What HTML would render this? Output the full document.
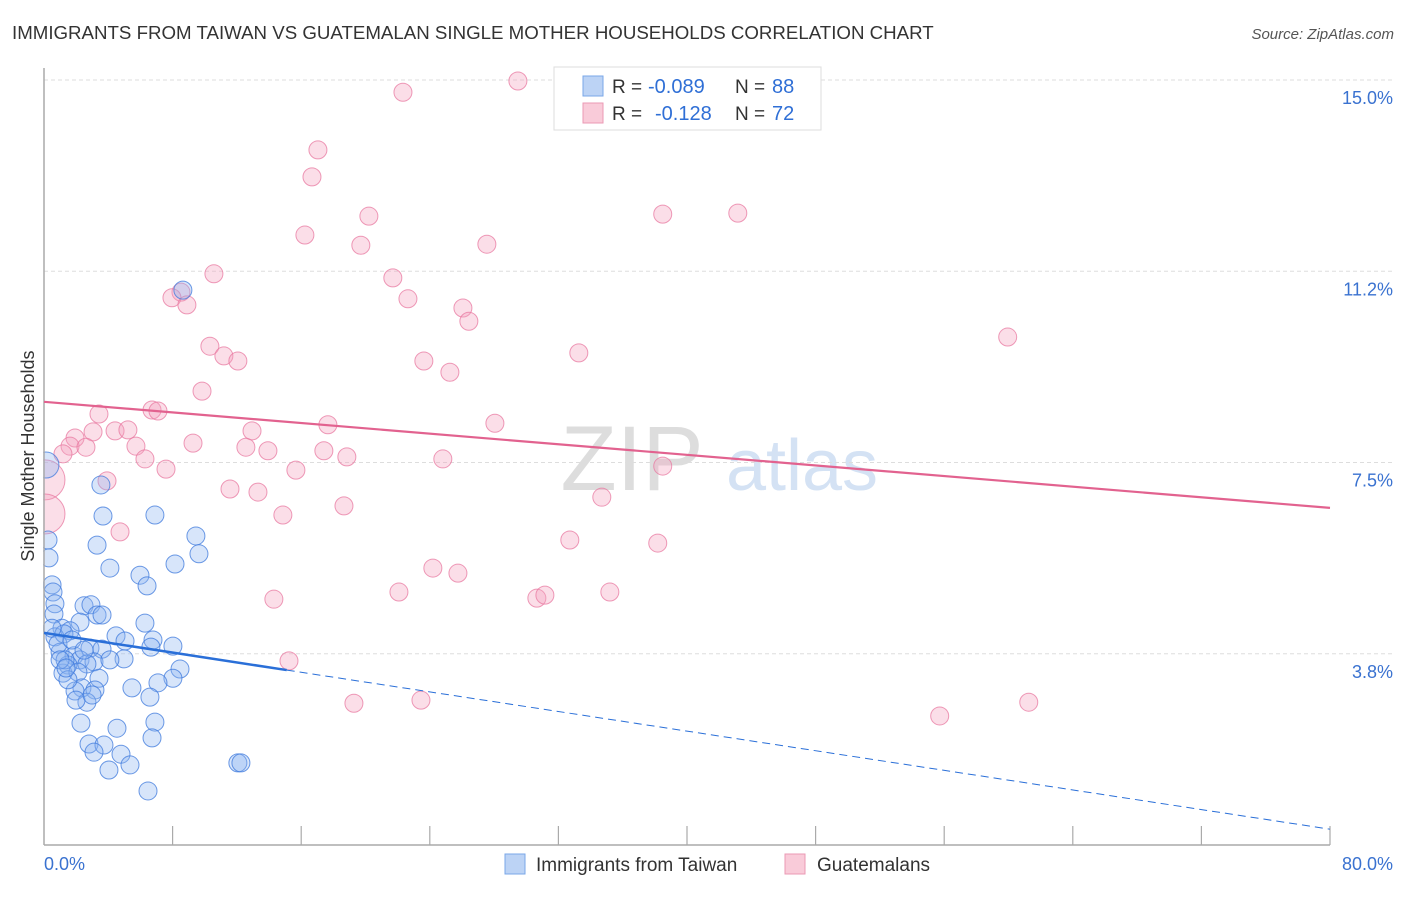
<!DOCTYPE html>
<html><head><meta charset="utf-8"><style>
body{margin:0;background:#fff;font-family:"Liberation Sans",sans-serif;}
svg text{font-family:"Liberation Sans",sans-serif;}
</style></head><body>
<svg id="chart" width="1406" height="892" xmlns="http://www.w3.org/2000/svg">
<text x="12" y="39" font-size="18.7" fill="#333">IMMIGRANTS FROM TAIWAN VS GUATEMALAN SINGLE MOTHER HOUSEHOLDS CORRELATION CHART</text>
<text x="1394" y="39" font-size="15" fill="#555" font-style="italic" text-anchor="end">Source: ZipAtlas.com</text>
<g>
<text x="632" y="490" font-size="92" fill="#ddd" font-family="Liberation Serif" text-anchor="middle">ZIP</text>
<text x="802" y="490" font-size="72" fill="#d4e2f4" text-anchor="middle">atlas</text>
</g>
<g id="grid"></g>
<g id="pts"></g>
<rect x="0" y="60" width="43.2" height="790" fill="#fff"/>
<g id="axes"></g>
<g id="trend"></g>
<text transform="translate(34,456) rotate(-90)" font-size="18" fill="#333" text-anchor="middle">Single Mother Households</text>
<g>
<rect x="554" y="67" width="267" height="63" fill="#fff" stroke="#ddd"/>
<rect x="583" y="76" width="20" height="20" fill="#bcd3f5" stroke="#7aa7e8"/>
<rect x="583" y="103" width="20" height="20" fill="#f9cbd9" stroke="#eb9ab4"/>
<text x="612" y="93" font-size="19" fill="#333">R =</text>
<text x="648" y="93" font-size="20" fill="#2f6fd6">-0.089</text>
<text x="735" y="93" font-size="19" fill="#333">N =</text>
<text x="772" y="93" font-size="20" fill="#2f6fd6">88</text>
<text x="612" y="120" font-size="19" fill="#333">R =</text>
<text x="655" y="120" font-size="20" fill="#2f6fd6">-0.128</text>
<text x="735" y="120" font-size="19" fill="#333">N =</text>
<text x="772" y="120" font-size="20" fill="#2f6fd6">72</text>
</g>
<g>
<rect x="505" y="854" width="20" height="20" fill="#bcd3f5" stroke="#7aa7e8"/>
<text x="536" y="871" font-size="19" fill="#333">Immigrants from Taiwan</text>
<rect x="785" y="854" width="20" height="20" fill="#f9cbd9" stroke="#eb9ab4"/>
<text x="817" y="871" font-size="19" fill="#333">Guatemalans</text>
</g>
</svg>
<script>
const yTicks=[15.0,11.25,7.5,3.75];
const yTickLabels=["15.0%","11.2%","7.5%","3.8%"];
const xTickLabels=["0.0%","80.0%"];
const blueX=[8.64,3.54,3.67,6.90,3.30,9.45,9.64,8.15,4.10,5.97,6.41,0.50,0.56,0.68,0.62,2.49,2.92,3.30,3.61,6.28,4.48,5.04,6.78,8.02,6.65,2.24,1.12,1.62,0.68,1.24,2.86,3.61,1.00,1.87,2.24,3.11,2.67,1.49,1.18,2.11,3.42,4.98,8.46,8.02,7.09,5.47,2.36,3.17,1.93,6.59,2.67,2.30,4.54,6.90,6.72,2.80,3.73,3.11,4.79,5.35,4.04,12.06,12.25,6.47,0.12,0.25,0.31,0.50,0.87,1.31,1.74,2.49,4.10,1.49,1.99,2.99,1.00,1.37];
const blueY=[10.88,7.06,6.45,6.47,5.88,6.06,5.71,5.51,5.43,5.29,5.08,5.10,4.96,4.73,4.53,4.69,4.71,4.51,4.51,4.35,4.10,4.00,4.02,3.90,3.88,4.37,4.25,4.20,4.08,4.14,3.86,3.84,3.78,3.71,3.63,3.59,3.55,3.53,3.37,3.39,3.27,3.65,3.45,3.27,3.18,3.08,3.08,3.04,3.02,2.90,2.80,2.39,2.29,2.41,2.10,1.98,1.96,1.82,1.78,1.57,1.47,1.61,1.61,1.06,7.45,5.98,5.63,4.25,3.94,3.63,4.02,3.82,3.63,3.24,2.84,2.94,3.63,3.47];
const pinkX=[29.48,22.33,17.04,16.67,20.21,43.16,16.23,19.71,27.55,38.49,10.57,21.70,8.52,7.96,8.89,22.64,26.06,26.43,59.95,10.32,11.19,12.06,33.27,23.63,25.25,9.83,6.72,7.09,3.42,17.66,28.05,3.05,4.42,5.22,12.94,9.27,1.93,1.62,2.61,5.72,1.18,12.56,13.93,17.41,18.84,24.81,6.28,7.59,15.67,38.49,3.92,0.06,11.57,13.31,34.70,18.66,14.86,0.06,4.73,32.71,38.18,24.19,25.75,14.30,22.08,30.66,31.16,35.20,15.24,19.28,23.45,55.72,61.26];
const pinkY=[14.98,14.76,13.63,13.10,12.33,12.39,11.96,11.76,11.78,12.37,11.20,11.12,10.84,10.73,10.59,10.71,10.53,10.27,9.96,9.78,9.59,9.49,9.65,9.49,9.27,8.90,8.53,8.51,8.45,8.24,8.27,8.10,8.12,8.14,8.12,7.88,7.98,7.82,7.80,7.82,7.67,7.80,7.73,7.73,7.61,7.57,7.57,7.37,7.35,7.43,7.14,7.16,6.98,6.92,6.82,6.65,6.47,6.49,6.14,5.98,5.92,5.43,5.33,4.82,4.96,4.84,4.90,4.96,3.61,2.78,2.84,2.53,2.80];
const blueTrendX=[0,15.1,80];
const blueTrendY=[4.16,3.43,0.31];
const pinkTrendX=[0,80];
const pinkTrendY=[8.69,6.61];
const X0=44,X1=1330,Y0=845,Y15=80;
const sx=v=>X0+(X1-X0)*v/80;
const sy=v=>Y0-(Y0-Y15)*v/15;
const NS="http://www.w3.org/2000/svg";
function mk(tag,attrs,parent){const e=document.createElementNS(NS,tag);for(const k in attrs)e.setAttribute(k,attrs[k]);parent.appendChild(e);return e;}
const grid=document.getElementById('grid'),axes=document.getElementById('axes');
yTicks.forEach((t,i)=>{
 const l=mk('line',{x1:X0,x2:1394,y1:sy(t),y2:sy(t),stroke:'#ddd','stroke-dasharray':'4,3'},grid);
 
 
 const tx=mk('text',{x:1393,y:sy(t)+24,'font-size':18,fill:'#3a72d0','text-anchor':'end'},axes);
 tx.textContent=yTickLabels[i];
 
 
});
const ya=mk('line',{x1:X0,x2:X0,y1:68,y2:Y0,stroke:'#aaa','stroke-width':1.5},axes);


const xa=mk('line',{x1:X0,x2:X1,y1:Y0,y2:Y0,stroke:'#aaa','stroke-width':1.5},axes);


for(let i=1;i<=10;i++){
 const t=mk('line',{x1:sx(i*8),x2:sx(i*8),y1:826,y2:Y0,stroke:'#aaa','stroke-width':1.2},axes);
 
 
}
const xl0=mk('text',{x:44,y:870,'font-size':18,fill:'#3a72d0'},axes);xl0.textContent=xTickLabels[0];


const xl1=mk('text',{x:1393,y:870,'font-size':18,fill:'#3a72d0','text-anchor':'end'},axes);xl1.textContent=xTickLabels[1];


const pts=document.getElementById('pts');
function big(x){return x<0.2?20:9;}
pinkX.forEach((x,i)=>{
 const c=mk('circle',{cx:sx(x),cy:sy(pinkY[i]),r:big(x),fill:'rgba(244,160,190,0.35)',stroke:'rgba(232,120,160,0.75)','stroke-width':1},pts);
 
 
});
blueX.forEach((x,i)=>{
 const c=mk('circle',{cx:sx(x),cy:sy(blueY[i]),r:x<0.2?13:9,fill:'rgba(140,180,240,0.35)',stroke:'rgba(60,120,220,0.75)','stroke-width':1},pts);
 
 
});
const tr=document.getElementById('trend');
const b1=mk('line',{x1:sx(blueTrendX[0]),y1:sy(blueTrendY[0]),x2:sx(blueTrendX[1]),y2:sy(blueTrendY[1]),stroke:'#2a6fd8','stroke-width':2.5},tr);


const b2=mk('line',{x1:sx(blueTrendX[1]),y1:sy(blueTrendY[1]),x2:sx(blueTrendX[2]),y2:sy(blueTrendY[2]),stroke:'#2a6fd8','stroke-width':1,'stroke-dasharray':'8,5'},tr);


const p1=mk('line',{x1:sx(pinkTrendX[0]),y1:sy(pinkTrendY[0]),x2:sx(pinkTrendX[1]),y2:sy(pinkTrendY[1]),stroke:'#e2628f','stroke-width':2.2},tr);


</script>
</body></html>
